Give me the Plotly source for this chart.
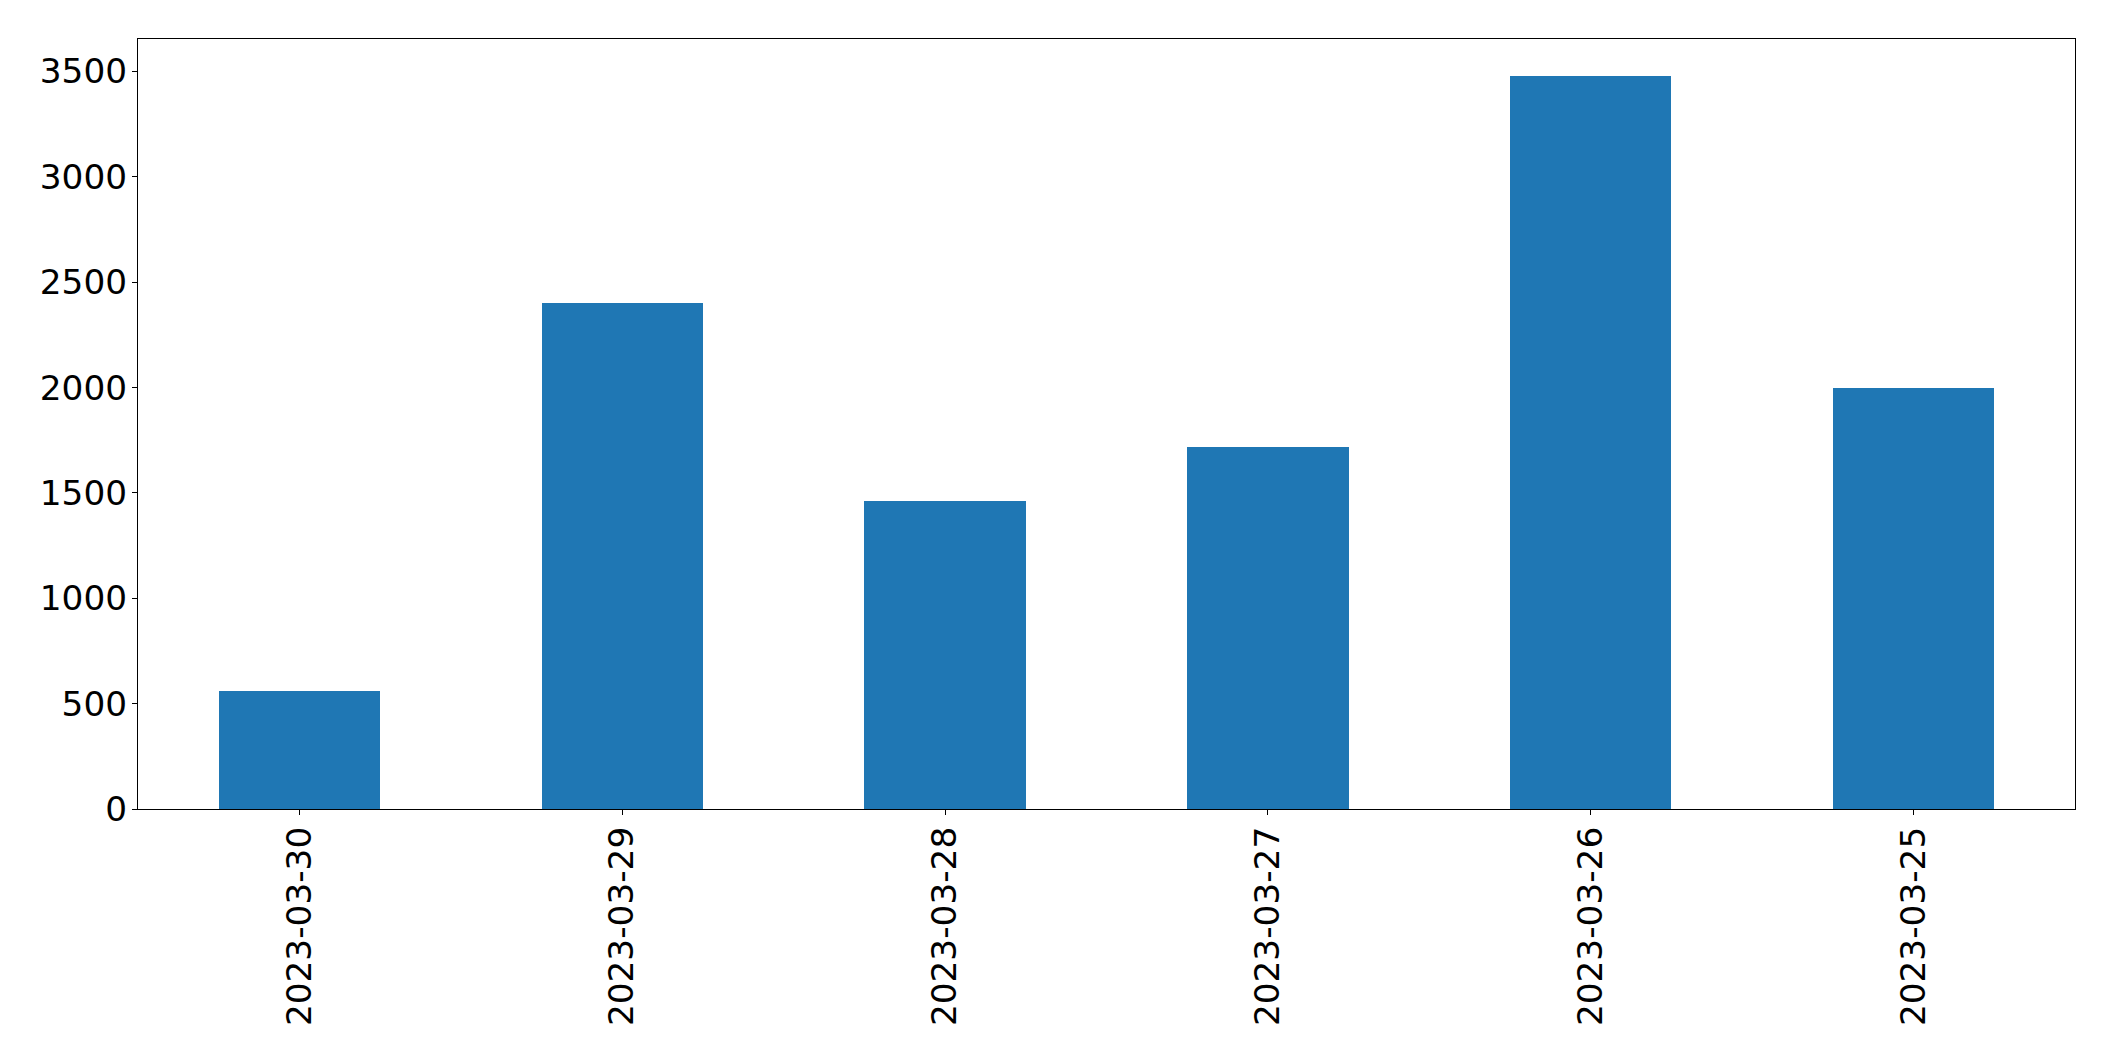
import plotly.graph_objects as go

dates = ["2023-03-30", "2023-03-29", "2023-03-28", "2023-03-27", "2023-03-26", "2023-03-25"]
values = [560, 2400, 1460, 1720, 3480, 2000]
y_ticks = [0, 500, 1000, 1500, 2000, 2500, 3000, 3500]

fig = go.Figure()
fig.add_trace(go.Bar(
    x=dates,
    y=values,
    width=0.5,
    marker=dict(color="#1f77b4", line=dict(width=0)),
))

font = dict(family="DejaVu Sans", size=34.3, color="black")

fig.update_layout(
    width=2115,
    height=1061,
    margin=dict(l=130, r=48, t=31, b=260, autoexpand=False),
    paper_bgcolor="white",
    plot_bgcolor="white",
    showlegend=False,
    font=font,
    bargap=0,
)
common = dict(
    ticks="outside",
    ticklen=5,
    tickwidth=1.1,
    tickcolor="black",
    showline=True,
    linecolor="black",
    linewidth=1.1,
    mirror=True,
    showgrid=False,
    zeroline=False,
    tickfont=font,
    ticklabelstandoff=-2,
)
fig.update_xaxes(
    type="category",
    range=[-0.5, len(dates) - 0.5],
    tickangle=-90,
    **common,
)
fig.update_yaxes(
    range=[0, max(values) * 1.05],
    tickmode="array",
    tickvals=y_ticks,
    ticktext=[str(v) for v in y_ticks],
    **common,
)

fig.write_html("out.html")
